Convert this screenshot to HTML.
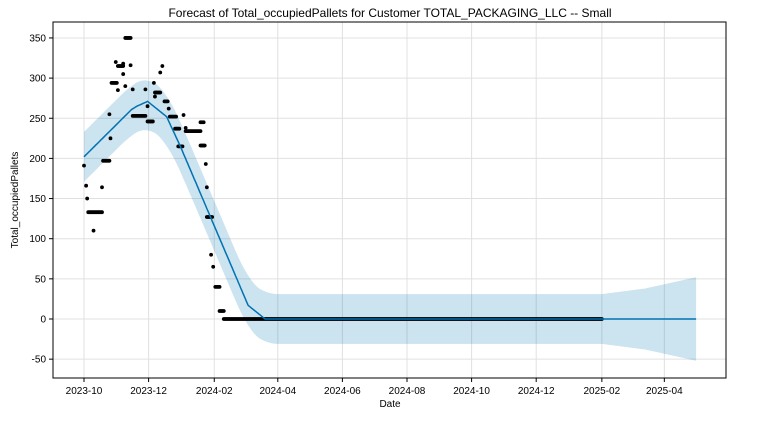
<!DOCTYPE html>
<html><head><meta charset="utf-8">
<style>
html,body{margin:0;padding:0;background:#fff;}
svg{display:block;font-family:"Liberation Sans","DejaVu Sans",sans-serif;}
</style></head>
<body>
<svg id="chart" width="763" height="430" viewBox="0 0 763 430"></svg>
<script>
// ---- data ----
const tickDates = ["2023-10-01","2023-12-01","2024-02-01","2024-04-01","2024-06-01","2024-08-01","2024-10-01","2024-12-01","2025-02-01","2025-04-01"];
const tickLabels = ["2023-10","2023-12","2024-02","2024-04","2024-06","2024-08","2024-10","2024-12","2025-02","2025-04"];
const yTicks = [-50,0,50,100,150,200,250,300,350];
// observed runs: start day, end day (from 2023-10-01), value
const obsStart = [0,2,3,4,9,17,18,24,25,26,30,32,37,37,32,39,39,44,46,46,58,60,60,66,67,67,72,74,76,80,81,86,94,96,96,110,89,110,115,116,116,120,122,124,128,132];
const obsEnd   = [0,2,3,17,9,17,24,24,25,31,30,37,37,37,32,39,44,44,46,58,58,60,65,66,72,67,72,74,79,80,87,90,94,96,110,113,93,114,115,116,121,120,122,128,132,489];
const obsValue = [191,166,150,133,110,164,197,255,225,294,320,315,318,305,285,290,350,316,286,253,286,265,246,294,282,277,307,315,271,262,252,237,254,238,234,245,215,216,193,164,127,80,65,40,10,0];
// forecast knots
const fcDay   = [0,45,50,60,78,91,155,171,489,578];
const fcValue = [202,261,265,271,252,215,17,0,0,0];
const bandDay   = [0,489,530,578];
const bandWidth = [31,31,38,52];

// ---- scales ----
const X0=84, PXD=1.059, Y0=319, PXU=0.803;
const base = Date.UTC(2023,9,1);
const dayOf = s => (Date.parse(s+"T00:00:00Z")-base)/86400000;
const xs = d => X0 + d*PXD;
const ys = v => Y0 - v*PXU;
const interp = (xa,ya,x)=>{if(x<=xa[0])return ya[0];for(let i=0;i<xa.length-1;i++){if(x<=xa[i+1]){const t=(x-xa[i])/(xa[i+1]-xa[i]);return ya[i]+t*(ya[i+1]-ya[i]);}}return ya[ya.length-1];};
const smooth = d => {let s=0,n=0;for(let k=-12;k<=12;k++){const dd=Math.min(578,Math.max(0,d+k));s+=interp(fcDay,fcValue,dd);n++;}return s/n;};

const svg=document.getElementById('chart');
const NS="http://www.w3.org/2000/svg";
function mk(tag,attrs,parent){const e=document.createElementNS(NS,tag);for(const k in attrs)e.setAttribute(k,attrs[k]);(parent||svg).appendChild(e);return e;}

const L=53,R=726,T=22,B=378;
const grid=mk('g',{});


tickDates.forEach((d,i)=>{
  const x=xs(dayOf(d));
  mk('line',{x1:x,x2:x,y1:T,y2:B,stroke:'#e0e0e0','stroke-width':1},grid);
});
yTicks.forEach(v=>{
  const y=ys(v);
  mk('line',{x1:L,x2:R,y1:y,y2:y,stroke:'#e0e0e0','stroke-width':1},grid);
});

// band
let up=[],lo=[];
for(let d=0;d<=578;d+=1){
  const c=(d<12)?interp(fcDay,fcValue,d):smooth(d), w=interp(bandDay,bandWidth,d);
  up.push(xs(d).toFixed(1)+","+ys(c+w).toFixed(1));
  lo.unshift(xs(d).toFixed(1)+","+ys(c-w).toFixed(1));
}
const band=mk('polygon',{points:up.concat(lo).join(" "),fill:'#0072B2','fill-opacity':0.2,stroke:'none'});



const dots=mk('g',{fill:'#000'});


for(let i=0;i<obsStart.length;i++){
  for(let d=obsStart[i];d<=obsEnd[i];d++){
    mk('circle',{cx:xs(d),cy:ys(obsValue[i]),r:1.9},dots);
  }
}

let pts=[];
for(let d=0;d<=578;d++) pts.push(xs(d).toFixed(1)+","+ys(interp(fcDay,fcValue,d)).toFixed(1));
const line=mk('polyline',{points:pts.join(" "),fill:'none',stroke:'#0072B2','stroke-width':1.5});



const fr=mk('rect',{x:L,y:T,width:R-L,height:B-T,fill:'none',stroke:'#000','stroke-width':1});



tickDates.forEach((d,i)=>{
  const x=xs(dayOf(d));
  mk('line',{x1:x,x2:x,y1:B,y2:B+4,stroke:'#000'});
  const t=mk('text',{x:x,y:B+16,'font-size':10,'text-anchor':'middle',fill:'#000'});
  t.textContent=tickLabels[i];
  
  
});
yTicks.forEach(v=>{
  const y=ys(v);
  mk('line',{x1:L-4,x2:L,y1:y,y2:y,stroke:'#000'});
  const t=mk('text',{x:L-7,y:y+3.5,'font-size':10,'text-anchor':'end',fill:'#000'});
  t.textContent=v;
  
  
});
</script>
<svg style="position:absolute;left:0;top:0" width="763" height="430">
<text x="390" y="17" font-size="12" text-anchor="middle" font-family="Liberation Sans, sans-serif">Forecast of Total_occupiedPallets for Customer TOTAL_PACKAGING_LLC -- Small</text>
<text x="390" y="407" font-size="10" text-anchor="middle" font-family="Liberation Sans, sans-serif">Date</text>
<text x="18" y="200" font-size="10" text-anchor="middle" transform="rotate(-90 18 200)" font-family="Liberation Sans, sans-serif">Total_occupiedPallets</text>
</svg>
</body></html>
